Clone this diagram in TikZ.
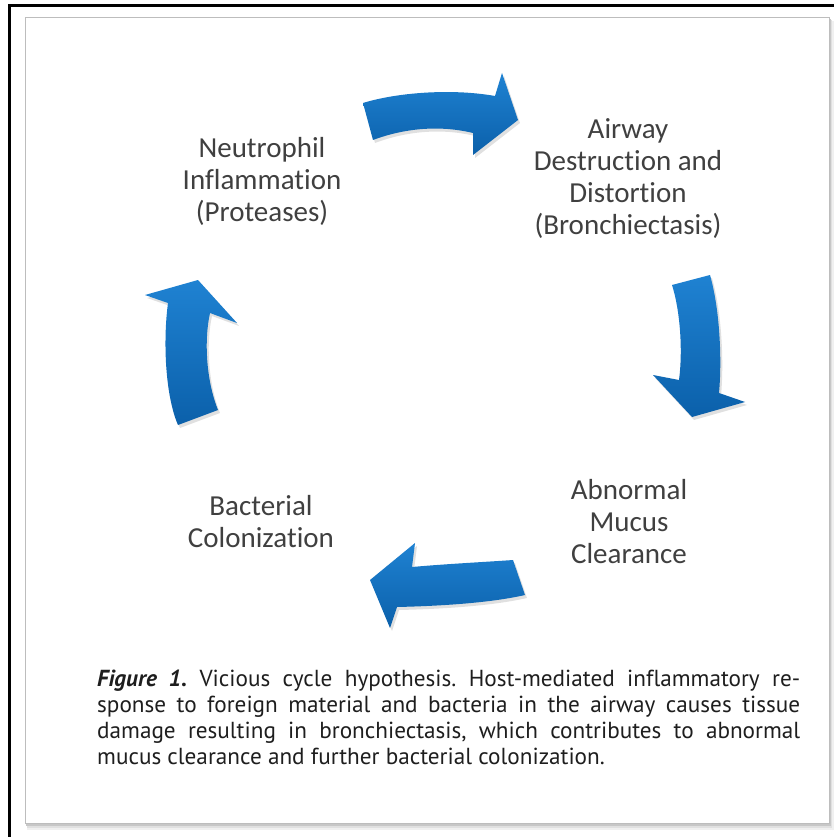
\documentclass[tikz,border=0pt]{standalone}
\usepackage{fontspec}
\setmainfont{Carlito}[Ligatures=NoCommon]
\newfontfamily\capfont{PT Sans}[Ligatures=NoCommon]
\usetikzlibrary{shadings}
\definecolor{lbltext}{HTML}{404040}
\definecolor{captext}{HTML}{1E1E1E}
\definecolor{blueTop}{HTML}{1F82D2}
\definecolor{blueBot}{HTML}{0B60AA}
\definecolor{panelline}{HTML}{BDBDBD}
\tikzset{
  lbl/.style={align=center, text=lbltext, inner sep=0pt, font=\fontsize{29}{32}\selectfont},
  blockarrow/.style={top color=blueTop, bottom color=blueBot, draw=none},
  arrowshadow/.style={fill=black, opacity=0.12, draw=none},
  capline/.style={anchor=north west, inner sep=0pt, align=left, text=captext, font=\capfont\fontsize{23.2}{26}\selectfont\frenchspacing}
}
\begin{document}
\begin{tikzpicture}[x=1pt,y=-1pt]
\useasboundingbox (0,0) rectangle (834,837);
\clip (0,0) rectangle (834,837);
\fill[white] (0,0) rectangle (834,837);
% outer black frame (partly cropped)
\draw[line width=3pt, black] (9.5,837) -- (9.5,5.5) -- (834,5.5);
% panel shadow
\fill[black!6] (27,21) rectangle (834,830);
\fill[black!12] (27,20) rectangle (832,828);
\fill[black!22] (26,19) rectangle (830.5,825.5);
% panel
\draw[panelline, fill=white, line width=1pt] (25,18) rectangle (829,823);

% arrow shadows
\begin{scope}[shift={(2,3)}]
\fill[arrowshadow] (363,103) .. controls (395,93) and (450,88) .. (495,96) -- (502,73) -- (518,120) -- (473,155) -- (473,133) .. controls (440,125) and (405,128) .. (373,140) -- cycle;
\fill[arrowshadow] (672,285) -- (710,275) .. controls (720,310) and (722,360) .. (719,393) -- (745,402) -- (692,417) -- (653,375) -- (679,380) .. controls (683,350) and (680,310) .. (672,285) -- cycle;
\fill[arrowshadow] (513,560) -- (525,595) .. controls (490,603) and (440,606) .. (397,607) -- (390,628) -- (370,580) -- (415,543) -- (412,567) .. controls (445,564) and (485,562) .. (513,560) -- cycle;
\fill[arrowshadow] (178,425) .. controls (165,395) and (163,340) .. (168,303) -- (145,295) -- (198,280) -- (237,323) -- (210,313) .. controls (204,340) and (206,380) .. (218,410) -- cycle;
\end{scope}

% block arrows
\path[blockarrow] (363,103) .. controls (395,93) and (450,88) .. (495,96) -- (502,73) -- (518,120) -- (473,155) -- (473,133) .. controls (440,125) and (405,128) .. (373,140) -- cycle;
\path[blockarrow] (672,285) -- (710,275) .. controls (720,310) and (722,360) .. (719,393) -- (745,402) -- (692,417) -- (653,375) -- (679,380) .. controls (683,350) and (680,310) .. (672,285) -- cycle;
\path[blockarrow] (513,560) -- (525,595) .. controls (490,603) and (440,606) .. (397,607) -- (390,628) -- (370,580) -- (415,543) -- (412,567) .. controls (445,564) and (485,562) .. (513,560) -- cycle;
\path[blockarrow] (178,425) .. controls (165,395) and (163,340) .. (168,303) -- (145,295) -- (198,280) -- (237,323) -- (210,313) .. controls (204,340) and (206,380) .. (218,410) -- cycle;

% labels
\node[lbl] (neut) at (262,181) {Neutrophil\\Inflammation\\(Proteases)};
\node[lbl] (airway) at (628,179) {Airway\\Destruction and\\Distortion\\(Bronchiectasis)};
\node[lbl] (mucus) at (629,522) {Abnormal\\Mucus\\Clearance};
\node[lbl] (bact) at (261,522) {Bacterial\\Colonization};

% caption
\node[capline] (caption) at (97,670) {%
\hbox to 703pt{{\bfseries\itshape Figure 1.} Vicious cycle hypothesis. Host-mediated inflammatory re-}\\
\hbox to 703pt{sponse to foreign material and bacteria in the airway causes tissue}\\
\hbox to 703pt{damage resulting in bronchiectasis, which contributes to abnormal}\\
mucus clearance and further bacterial colonization.};
\end{tikzpicture}
\end{document}
